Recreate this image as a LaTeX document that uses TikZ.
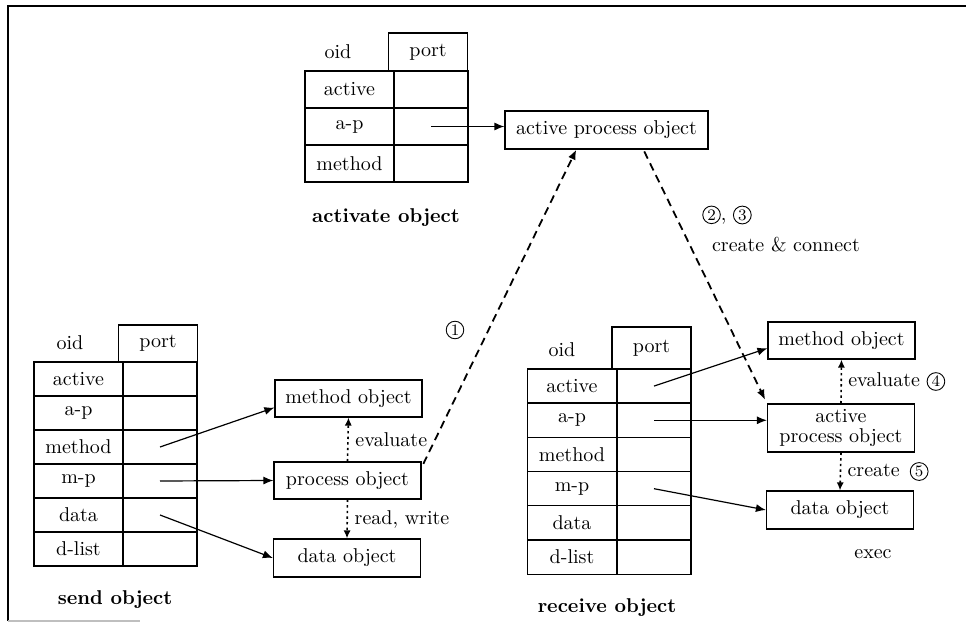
\documentclass[tikz,border=0pt]{standalone}
\usepackage{fontspec}
\usetikzlibrary{arrows.meta}
\newcommand{\cnum}[1]{\tikz[baseline=(cn.base)]\node[draw, circle, line width=0.45pt, inner sep=0.7pt, font=\footnotesize] (cn) {#1};}

\tikzset{
  namecell/.style={draw, line width=0.6pt, minimum width=44.5pt, minimum height=#1, inner sep=0pt},
  namecell/.default=17pt,
  portcell/.style={draw, line width=0.6pt, minimum width=37pt, minimum height=#1, inner sep=0pt},
  portcell/.default=17pt,
  porthead/.style={draw, line width=0.6pt, minimum width=39.5pt, minimum height=#1, inner sep=0pt},
  porthead/.default=19pt,
  objbox/.style={draw, line width=0.6pt, minimum width=73.5pt, minimum height=18.5pt, inner sep=1pt},
  link/.style={-{Latex[length=5pt,width=4pt]}, line width=0.6pt},
  msg/.style={-{Latex[length=5pt,width=4pt]}, line width=0.9pt, dash pattern=on 4pt off 2.6pt},
  uses/.style={-{Latex[length=4pt,width=3.6pt]}, line width=0.8pt, dash pattern=on 1.2pt off 1.6pt},
  title/.style={font=\bfseries}
}

\begin{document}
\begin{tikzpicture}[x=0.5pt, y=-0.5pt]
\useasboundingbox (0,0) rectangle (966,631);
\draw[line width=0.8pt] (966,6) -- (8,6) -- (8,621);
\draw[gray!50, line width=0.6pt] (8,621) -- (140,621);

% activate object
\node (a-oid) at (338,52) {oid};
\node[porthead] (a-port) at (428,52) {port};
\foreach \lab [count=\i] in {active,a-p,method}{
  \node[namecell=18.5pt] (a-n\i) at (349.5,{71+37*(\i-0.5)}) {\lab};
  \node[portcell=18.5pt] (a-p\i) at (431,{71+37*(\i-0.5)}) {};
}
\node[title] (a-title) at (386,218) {activate object};
\node[objbox, minimum width=101.5pt, minimum height=19pt] (apo1) at (606.5,130) {active process object};
\draw[link] (a-p2.center) -- (a-p2.center -| apo1.west);

% send object
\node (s-oid) at (70,343) {oid};
\node[porthead=18.5pt] (s-port) at (158,343.5) {port};
\foreach \lab [count=\i] in {active,a-p,method,m-p,data,d-list}{
  \node[namecell] (s-n\i) at (78.5,{362+34*(\i-0.5)}) {\lab};
  \node[portcell] (s-p\i) at (160,{362+34*(\i-0.5)}) {};
}
\node[title] (s-title) at (115,600) {send object};
\node[objbox] (smeth) at (348.5,398.5) {method object};
\node[objbox] (sproc) at (347.5,480.5) {process object};
\node[objbox, minimum height=19pt] (sdata) at (347,558) {data object};
\draw[link] (s-p3.center) -- (smeth.187);
\draw[link] (s-p4.center) -- (sproc.west);
\draw[link] (s-p5.center) -- (sdata.west);
\draw[uses] (sproc.north) -- (smeth.south) node[midway, right] {evaluate};
\draw[uses] (sproc.south) -- (sdata.north) node[midway, right] {read, write};

% receive object
\node (r-oid) at (562,350) {oid};
\node[porthead=21pt] (r-port) at (651.5,348) {port};
\foreach \lab [count=\i] in {active,a-p,method,m-p,data,d-list}{
  \node[namecell] (r-n\i) at (572,{369+34.2*(\i-0.5)}) {\lab};
  \node[portcell] (r-p\i) at (654,{369+34.2*(\i-0.5)}) {};
}
\node[title] (r-title) at (607,608) {receive object};
\node[objbox] (rmeth) at (841.5,340.5) {method object};
\node[objbox, minimum height=24pt, align=center, inner sep=0.5pt] (rapo) at (841,428) {active\\[-2pt]process object};
\node[objbox, minimum height=19pt] (rdata) at (840,510) {data object};
\node (r-exec) at (873,554) {exec};
\draw[link] (r-p1.center) -- (rmeth.186);
\draw[link] (r-p2.center) -- (r-p2.center -| rapo.west);
\draw[link] (r-p4.center) -- (rdata.west);
\draw[uses] (rapo.north) -- (rmeth.south) node[midway, right] {evaluate \cnum{4}};
\draw[uses] (rapo.south) -- (rdata.north) node[midway, right] {create\enspace\cnum{5}};

% messages
\draw[msg, shorten <=2pt] (sproc.10) -- (apo1.213);
\node (m1) at (455,330) {\cnum{1}};
\draw[msg, shorten <=1pt, shorten >=2pt] (apo1.332) -- (rapo.north west);
\node (m23) at (727,215) {\cnum{2}, \cnum{3}};
\node (m23-text) at (786,245) {create \& connect};
\end{tikzpicture}
\end{document}
